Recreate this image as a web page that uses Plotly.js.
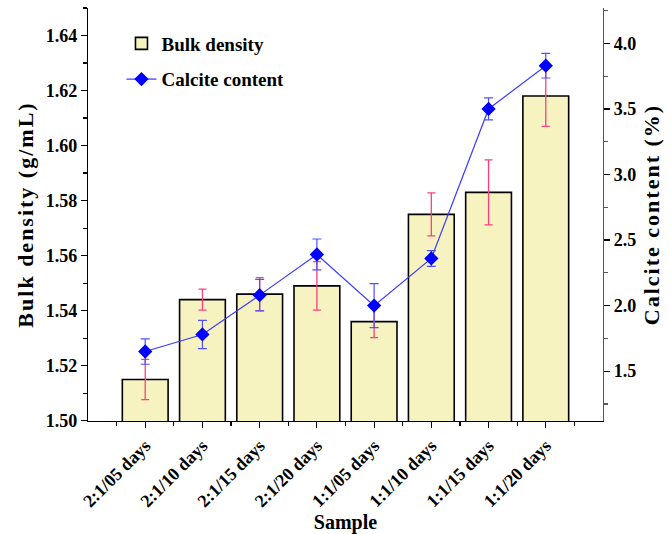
<!DOCTYPE html>
<html>
<head>
<meta charset="utf-8">
<script src="https://cdn.plot.ly/plotly-3.0.1.min.js"></script>
<style>
html,body{margin:0;padding:0;background:#fff;}
#chart{width:670px;height:534px;}
#chart .ytitle, #chart .y2title{letter-spacing:2px;}
</style>
</head>
<body>
<div id="chart"></div>
<script>
var categories = ["2:1/05 days","2:1/10 days","2:1/15 days","2:1/20 days","1:1/05 days","1:1/10 days","1:1/15 days","1:1/20 days"];
var bulkDensity = [1.515, 1.544, 1.546, 1.549, 1.536, 1.575, 1.583, 1.618];
var bulkDensityErr = [0.0073, 0.0038, 0.006, 0.0088, 0.0058, 0.0078, 0.0118, 0.011];
var calciteContent = [1.65, 1.78, 2.08, 2.39, 2.00, 2.36, 3.50, 3.83];
var calciteErr = [0.097, 0.108, 0.12, 0.118, 0.168, 0.06, 0.084, 0.094];

var xIdx = categories.map(function(c, i){ return i; });
var FONT = "Liberation Serif, Times New Roman, serif";

var traces = [
  {
    type: "bar", name: "Bulk density", x: xIdx, y: bulkDensity, width: 0.8,
    legendgroup: "a",
    marker: {color: "#F7F3C0", line: {color: "#000", width: 1.6}},
    error_y: {type: "data", array: bulkDensityErr, visible: true, color: "#FF3D7F", thickness: 1.3, width: 4},
    hoverinfo: "skip"
  },
  {
    type: "scatter", mode: "lines+markers", name: "Calcite content", x: xIdx, y: calciteContent,
    yaxis: "y2", legendgroup: "b",
    line: {color: "rgb(60,60,255)", width: 1.2},
    marker: {symbol: "diamond", size: 11, color: "#0000FF"},
    error_y: {type: "data", array: calciteErr, visible: true, color: "rgb(80,80,255)", thickness: 1.2, width: 4.5},
    hoverinfo: "skip"
  }
];

var layout = {
  width: 670, height: 534,
  margin: {l: 88, r: 67, t: 8, b: 113},
  paper_bgcolor: "#fff", plot_bgcolor: "#fff",
  font: {family: FONT, size: 18, color: "#000", weight: "bold"},
  showlegend: true,
  legend: {x: 0.065, y: 0.96, xanchor: "left", yanchor: "top", bgcolor: "rgba(0,0,0,0)",
           font: {family: FONT, size: 19, weight: "bold", color: "#000"}, tracegroupgap: 8, traceorder: "grouped"},
  bargap: 0.2,
  xaxis: {
    range: [-1, 8], tickmode: "array", tickvals: xIdx, ticktext: categories, tickangle: -45,
    showline: true, linecolor: "#000", linewidth: 1.2, ticks: "outside", ticklen: 6, tickwidth: 1.2, tickcolor: "#000",
    showgrid: false, zeroline: false,
    minor: {tick0: -0.5, dtick: 1, ticklen: 4, tickwidth: 1.2, tickcolor: "#000", ticks: "outside"},
    tickfont: {family: FONT, size: 18, weight: "bold"},
    title: {text: "Sample", font: {family: FONT, size: 20, weight: "bold"}, standoff: 2}
  },
  yaxis: {
    range: [1.4999, 1.65], dtick: 0.02, tick0: 1.5, tickformat: ".2f",
    showline: true, linecolor: "#000", linewidth: 1.2, ticks: "outside", ticklen: 6, tickwidth: 1.2, tickcolor: "#000",
    showgrid: false, zeroline: false,
    minor: {dtick: 0.01, ticklen: 4, tickwidth: 1.2, tickcolor: "#000", ticks: "outside"},
    tickfont: {family: FONT, size: 18, weight: "bold"},
    title: {text: "Bulk density (g/mL)", font: {family: FONT, size: 22, weight: "bold"}, standoff: 6}
  },
  yaxis2: {
    overlaying: "y", side: "right", range: [1.12, 4.27], dtick: 0.5, tick0: 1.5, tickformat: ".1f",
    showline: true, linecolor: "#555", linewidth: 1.2, ticks: "outside", ticklen: 6, tickwidth: 1.2, tickcolor: "#000",
    showgrid: false, zeroline: false,
    minor: {dtick: 0.25, ticklen: 4, tickwidth: 1.2, tickcolor: "#555", ticks: "outside"},
    tickfont: {family: FONT, size: 18, weight: "bold"},
    title: {text: "Calcite content (%)", font: {family: FONT, size: 22, weight: "bold"}, standoff: 8}
  }
};

Plotly.newPlot("chart", traces, layout, {displayModeBar: false, staticPlot: true});
</script>
</body>
</html>
